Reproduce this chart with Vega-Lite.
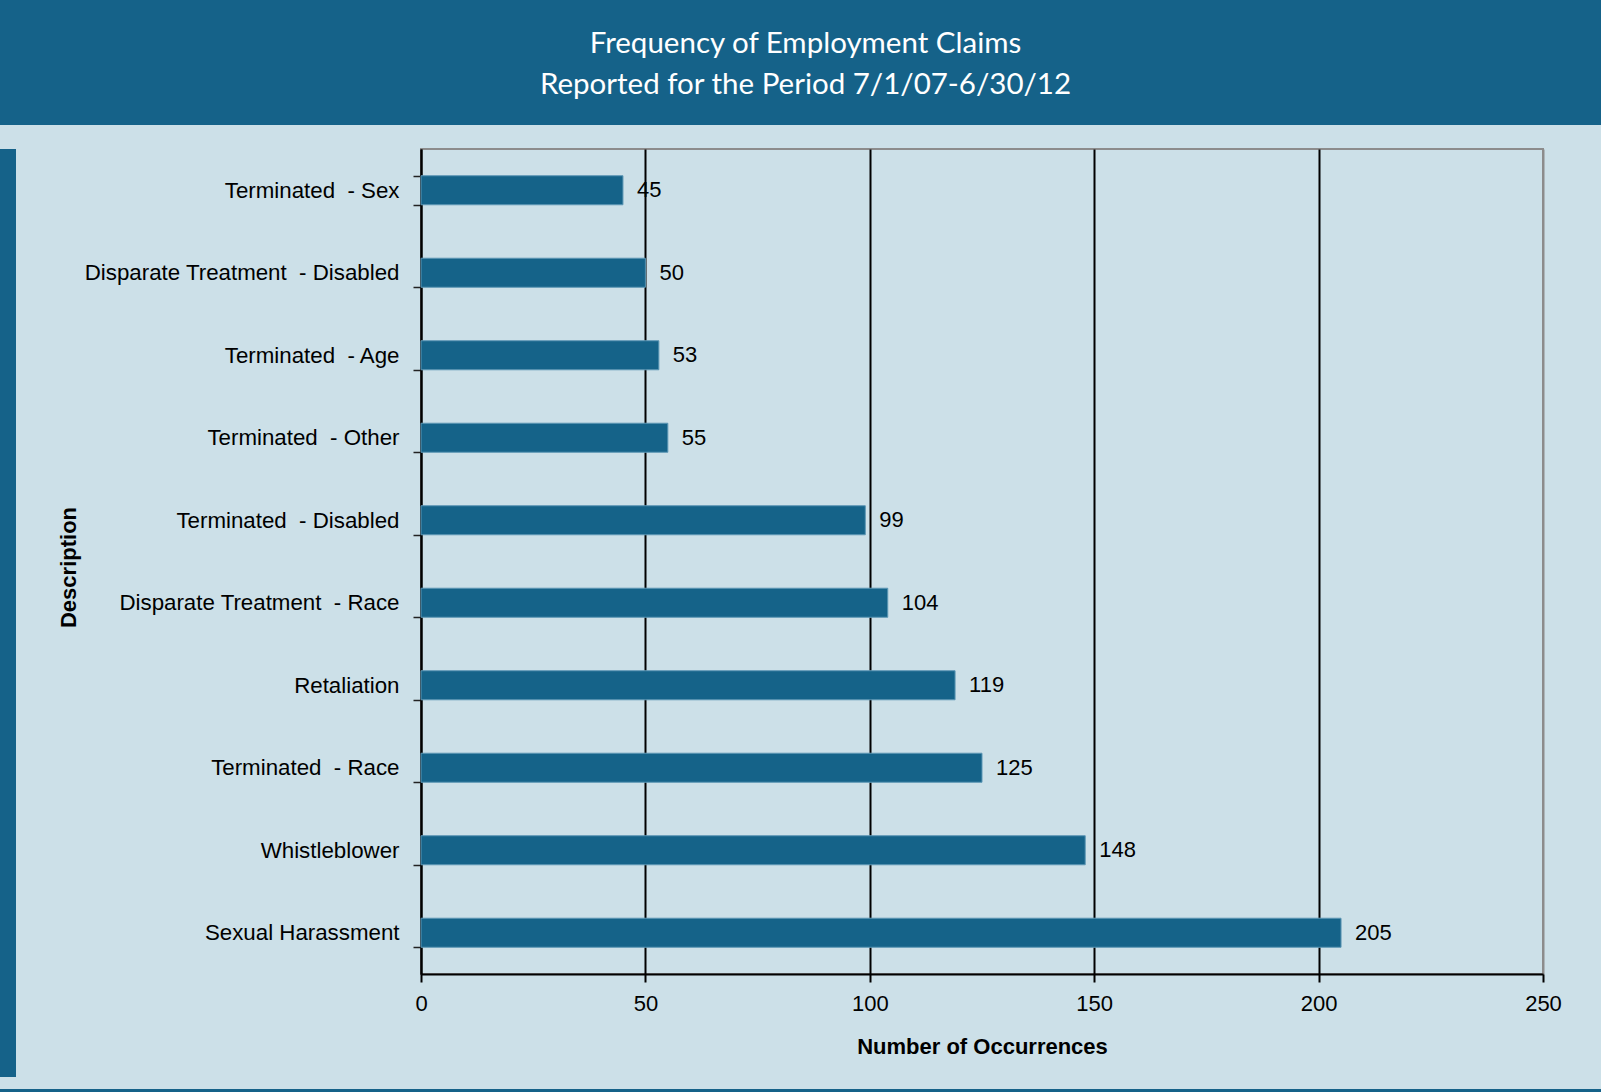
{
  "$schema": "https://vega.github.io/schema/vega-lite/v6.json",
  "background": "#cce0e8",
  "padding": 0,
  "spacing": 12,
  "config": {"view": {"stroke": null}, "font": "Liberation Sans"},
  "vconcat": [
    {
      "width": 1601, "height": 125,
      "view": {"fill": "#156289", "stroke": null},
      "data": {"values": [
        {"line": 1, "text": "Frequency of Employment Claims"},
        {"line": 2, "text": "Reported for the Period 7/1/07-6/30/12"}
      ]},
      "mark": {"type": "text", "font": "Lato", "fontSize": 29.5, "color": "white", "baseline": "middle", "dx": 5, "dy": 2},
      "encoding": {
        "y": {"field": "line", "type": "ordinal", "axis": null, "scale": {"type": "point", "padding": 1}},
        "text": {"field": "text"}
      }
    },
    {
      "spacing": 40,
      "hconcat": [
        {
          "width": 16, "height": 928,
          "data": {"values": []},
          "mark": "point",
          "view": {"fill": "#156289", "stroke": null}
        },
        {
          "width": 1122, "height": 825,
          "view": {"stroke": "#8c8c8c", "strokeWidth": 2},
          "data": {"values": [
            {"description": "Terminated\u00a0 - Sex", "count": 45},
            {"description": "Disparate Treatment\u00a0 - Disabled", "count": 50},
            {"description": "Terminated\u00a0 - Age", "count": 53},
            {"description": "Terminated\u00a0 - Other", "count": 55},
            {"description": "Terminated\u00a0 - Disabled", "count": 99},
            {"description": "Disparate Treatment\u00a0 - Race", "count": 104},
            {"description": "Retaliation", "count": 119},
            {"description": "Terminated\u00a0 - Race", "count": 125},
            {"description": "Whistleblower", "count": 148},
            {"description": "Sexual Harassment", "count": 205}
          ]},
          "encoding": {
            "y": {
              "field": "description", "type": "nominal", "sort": null,
              "scale": {"paddingInner": 0.648, "paddingOuter": 0.324},
              "title": "Description",
              "axis": {
                "tickBand": "extent", "tickSize": 8, "tickColor": "#222", "tickWidth": 1.5,
                "domainColor": "black", "domainWidth": 2,
                "labelFontSize": 22.3, "labelColor": "black", "labelPadding": 14, "labelLimit": 500,
                "titleFontSize": 22, "titleFontWeight": "bold", "titleColor": "black",
                "titleX": -341, "titleY": 418,
                "grid": false
              }
            },
            "x": {
              "field": "count", "type": "quantitative",
              "scale": {"domain": [0, 250], "nice": false},
              "title": "Number of Occurrences",
              "axis": {
                "values": [0, 50, 100, 150, 200, 250],
                "grid": true, "gridWidth": 2,
                "gridColor": {"condition": {"test": "datum.value === 250", "value": "#8c8c8c"}, "value": "black"},
                "domainColor": "black", "domainWidth": 2,
                "tickColor": "black", "tickSize": 8, "tickWidth": 2,
                "labelFontSize": 22, "labelColor": "black", "labelPadding": 11, "labelFlush": false,
                "titleFontSize": 22, "titleFontWeight": "bold", "titleColor": "black", "titlePadding": 22
              }
            }
          },
          "layer": [
            {"mark": {"type": "bar", "color": "#156389", "stroke": "#5d97b5", "strokeWidth": 1}},
            {"mark": {"type": "text", "align": "left", "baseline": "middle", "dx": 14, "fontSize": 22, "color": "black"},
             "encoding": {"text": {"field": "count", "type": "quantitative"}}}
          ]
        }
      ]
    },
    {
      "width": 1601, "height": 4,
      "data": {"values": []},
      "mark": "point",
      "view": {"fill": "#156289", "stroke": null}
    }
  ]
}
